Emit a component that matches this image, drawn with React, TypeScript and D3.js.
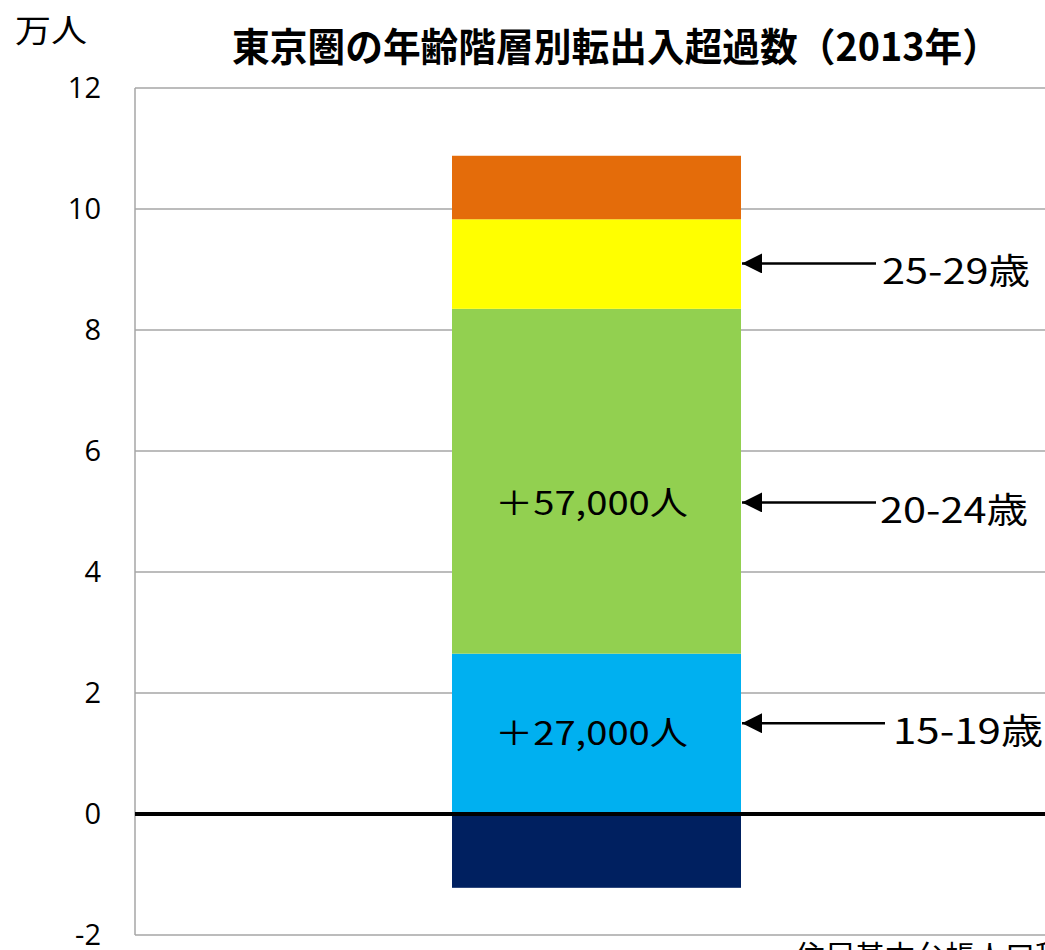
import React from "react";
import * as d3 from "d3";

const segmentNames = ["0-14歳以下", "15-19歳", "20-24歳", "25-29歳", "30-34歳"];
const segmentValues = [-1.22, 2.65, 5.7, 1.48, 1.05];
const segmentColors = ["#002060", "#00b0f0", "#92d050", "#ffff00", "#e46c0a"];
const yTicks = [-2, 0, 2, 4, 6, 8, 10, 12];
const inLabels = [
  { seg: 1, text: "＋27,000人", at: 1.34 },
  { seg: 2, text: "＋57,000人", at: 5.14 },
];
const arrowLabels = [
  { seg: 1, text: "15-19歳", at: 1.5, x0: 885, tx: 893, tl: 150 },
  { seg: 2, text: "20-24歳", at: 5.15, x0: 876, tx: 880, tl: 148 },
  { seg: 3, text: "25-29歳", at: 9.1, x0: 876, tx: 882, tl: 148 },
];

export default function App() {
  const W = 1045, H = 950;
  const left = 135, right = 1045, top = 88, bottom = 935;
  const y = d3.scaleLinear().domain([-2, 12]).range([bottom, top]);
  const bx = 452, bw = 289;

  const segs: { y0: number; y1: number; color: string; name: string }[] = [];
  let pos = 0;
  segmentValues.forEach((v, i) => {
    if (v < 0) segs.push({ y0: v, y1: 0, color: segmentColors[i], name: segmentNames[i] });
    else {
      segs.push({ y0: pos, y1: pos + v, color: segmentColors[i], name: segmentNames[i] });
      pos += v;
    }
  });

  const font = "'Open Sans', 'Noto Sans CJK JP', sans-serif";
  const cjk = "'Noto Sans CJK JP', sans-serif";

  return (
    <svg width={W} height={H} style={{ position: "absolute", left: 0, top: 0, background: "#fff" }}>
      <defs>
        <marker id="ah2" viewBox="0 0 20 20" refX="20" refY="10" markerWidth="22" markerHeight="20" markerUnits="userSpaceOnUse" orient="auto">
          <path d="M0,0 L20,10 L0,20 z" fill="#000" />
        </marker>
      </defs>
      {yTicks.map((t) => (
        <line key={t} x1={left} x2={right} y1={y(t)} y2={y(t)} stroke="#a6a6a6" strokeWidth={1.5} />
      ))}
      <line x1={left} x2={left} y1={top} y2={bottom} stroke="#a6a6a6" strokeWidth={1.5} />
      {segs.map((s, i) => (
        <rect key={i} x={bx} width={bw} y={y(s.y1)} height={y(s.y0) - y(s.y1)} fill={s.color} />
      ))}
      <line x1={left} x2={right} y1={y(0)} y2={y(0)} stroke="#000" strokeWidth={4} />
      {yTicks.map((t) => (
        <text key={t} x={101} y={y(t)} dy="0.36em" textAnchor="end" fontFamily={font} fontSize={29} fill="#000">
          {t}
        </text>
      ))}
      <text x={15} y={42} fontFamily={cjk} fontSize={32} textLength={72} lengthAdjust="spacingAndGlyphs" fill="#000">万人</text>
      <text x={232} y={61} fontFamily={cjk} fontWeight="bold" fontSize={39} textLength={768} lengthAdjust="spacingAndGlyphs" fill="#000">
        東京圏の年齢階層別転出入超過数（2013年）
      </text>
      {inLabels.map((l) => (
        <text key={l.text} x={495} y={y(l.at)} dy="0.36em" fontFamily={cjk} fontSize={33} textLength={193} lengthAdjust="spacingAndGlyphs" fill="#000">
          {l.text}
        </text>
      ))}
      {arrowLabels.map((a) => (
        <g key={a.text}>
          <line x1={a.x0} x2={bx + bw + 1} y1={y(a.at)} y2={y(a.at)} stroke="#000" strokeWidth={2.5} markerEnd="url(#ah2)" />
          <text x={a.tx} y={y(a.at) + 8} dy="0.36em" fontFamily={cjk} fontSize={35} textLength={a.tl} lengthAdjust="spacingAndGlyphs" fill="#000">
            {a.text}
          </text>
        </g>
      ))}
      <text x={795} y={967} fontFamily={cjk} fontSize={30} fill="#000">住民基本台帳人口移動報告</text>
    </svg>
  );
}
